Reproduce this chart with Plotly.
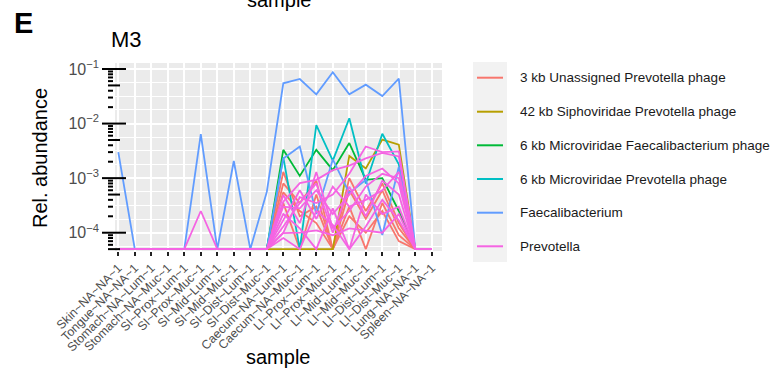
import numpy as np
import plotly.graph_objects as go

# ---------------- data ----------------
samples = ["Skin~NA~NA~1", "Tongue~NA~NA~1", "Stomach~NA~Lum~1", "Stomach~NA~Muc~1",
           "SI~Prox~Lum~1", "SI~Prox~Muc~1", "SI~Mid~Lum~1", "SI~Mid~Muc~1",
           "SI~Dist~Lum~1", "SI~Dist~Muc~1", "Caecum~NA~Lum~1", "Caecum~NA~Muc~1",
           "LI~Prox~Lum~1", "LI~Prox~Muc~1", "LI~Mid~Lum~1", "LI~Mid~Muc~1",
           "LI~Dist~Lum~1", "LI~Dist~Muc~1", "Lung~NA~NA~1", "Spleen~NA~NA~1"]

FLOOR = 5e-5  # zeros are drawn at the lower limit

z10 = [0] * 10
phage_3kb = [
    z10 + [1.3e-3, 2.0e-4, 3.0e-4, 0, 6.0e-4, 1.8e-4, 6.0e-4, 1.2e-4, 0, 0],
    z10 + [8.0e-4, 3.5e-4, 9.0e-4, 0, 3.0e-4, 0, 3.5e-4, 9.0e-5, 0, 0],
    z10 + [5.5e-4, 2.5e-4, 1.5e-4, 0, 1.0e-3, 2.5e-4, 8.0e-4, 1.5e-4, 0, 0],
    z10 + [3.5e-4, 0, 5.0e-4, 0, 2.0e-4, 1.0e-4, 2.5e-4, 7.0e-5, 0, 0],
]
phage_42kb = [
    [0] * 14 + [2.55e-3, 1.5e-3, 5.1e-3, 4.1e-3, 0, 0],
]
phage_6kb_faec = [
    z10 + [3.3e-3, 1.1e-3, 3.3e-3, 1.4e-3, 4.4e-3, 9.3e-4, 1.0e-3, 2.5e-4, 0, 0],
]
phage_6kb_prev = [
    z10 + [2.4e-3, 0, 9.4e-3, 2.1e-3, 1.25e-2, 8.0e-4, 6.5e-3, 1.8e-3, 0, 0],
]
faecalibacterium = [
    [3.0e-3, 0, 0, 0, 0, 6.4e-3, 0, 2.06e-3, 0, 5.6e-4,
     5.47e-2, 6.56e-2, 3.43e-2, 8.7e-2, 3.43e-2, 5.16e-2, 3.2e-2, 6.65e-2, 0, 0],
    z10 + [2.3e-3, 3.8e-3, 2.2e-4, 2.2e-3, 5.3e-4, 9.3e-4, 9.1e-5, 1.6e-3, 0, 0],
]
prevotella = [
    [0, 0, 0, 0, 0, 2.5e-4, 0, 0, 0, 0,
     4.9e-4, 1.5e-4, 1.3e-3, 1.2e-4, 2.5e-4, 7.0e-4, 1.2e-3, 1.0e-3, 0, 0],
    z10 + [3.7e-4, 8.1e-4, 9.3e-4, 1.4e-3, 1.7e-3, 2.3e-3, 2.9e-3, 2.5e-3, 0, 0],
    z10 + [1.0e-4, 4.5e-4, 3.5e-4, 5.0e-4, 1.2e-3, 3.8e-3, 3.0e-3, 3.1e-3, 0, 0],
    z10 + [3.0e-4, 2.8e-4, 6.0e-4, 2.2e-4, 5.0e-4, 1.1e-3, 1.5e-3, 8.0e-4, 0, 0],
    z10 + [1.7e-4, 6.0e-4, 1.8e-4, 7.0e-4, 3.0e-4, 4.0e-4, 6.0e-4, 1.3e-3, 0, 0],
    z10 + [9.8e-5, 1.0e-4, 1.1e-4, 9.0e-5, 1.2e-4, 1.1e-4, 1.0e-4, 2.2e-4, 0, 0],
    z10 + [2.2e-4, 1.2e-4, 0, 2.8e-4, 0, 5.0e-4, 2.2e-4, 3.0e-4, 0, 0],
    z10 + [1.3e-4, 3.5e-4, 8.0e-4, 1.0e-4, 7.0e-4, 2.0e-4, 9.0e-4, 5.0e-4, 0, 0],
    z10 + [8.0e-5, 0, 2.5e-4, 1.4e-4, 0, 1.3e-4, 4.0e-4, 1.7e-4, 0, 0],
]

series_names = ["3 kb Unassigned Prevotella phage", "42 kb Siphoviridae Prevotella phage",
                "6 kb Microviridae Faecalibacterium phage", "6 kb Microviridae Prevotella phage",
                "Faecalibacterium", "Prevotella"]
series_data = [phage_3kb, phage_42kb, phage_6kb_faec, phage_6kb_prev, faecalibacterium, prevotella]
series_colors = ["#F8766D", "#B79F00", "#00BA38", "#00BFC4", "#619CFF", "#F564E3"]

y_decades = [1e-4, 1e-3, 1e-2, 1e-1]
y_ticktext = ["10<sup>−4</sup>", "10<sup>−3</sup>", "10<sup>−2</sup>", "10<sup>−1</sup>"]

# ---------------- layout geometry ----------------
W, H = 773, 373
ML, MR, MT, MB = 100, 331, 63, 122
PW = W - ML - MR
PH = H - MT - MB
X_RANGE = [-1.109, -1.109 + PW / 16.5]
Y_TOP = -0.89
Y_RANGE = [Y_TOP - PH / 54.57, Y_TOP]

FONT = "Liberation Sans, Arial, sans-serif"


def px_x(p):
    return (p - ML) / PW


def px_y(p):
    return 1 - (p - MT) / PH


fig = go.Figure()

x_idx = list(range(len(samples)))
for name, groups, col in zip(series_names, series_data, series_colors):
    for k, vals in enumerate(groups):
        y = np.where(np.array(vals, dtype=float) > 0, vals, FLOOR)
        fig.add_trace(go.Scatter(
            x=x_idx, y=y, mode="lines", name=name, legendgroup=name,
            showlegend=False, line=dict(color=col, width=1.8),
            hovertext=[samples[i] for i in x_idx],
        ))

# log tick marks (annotation_logticks style) on a pixel-scaled overlay axis
lo, hi = 10 ** Y_RANGE[0], 10 ** Y_RANGE[1]
tx, ty = [], []
for d in range(-6, 1):
    for m in range(1, 10):
        v = m * 10.0 ** d
        if not (lo <= v <= hi):
            continue
        if m == 1:
            x0, x1 = 2, 26
        elif m == 5:
            x0, x1 = 8, 20
        else:
            x0, x1 = 8, 13
        tx += [x0, x1, None]
        ty += [v, v, None]
fig.add_trace(go.Scatter(x=tx, y=ty, xaxis="x2", mode="lines",
                         line=dict(color="black", width=2), showlegend=False,
                         hoverinfo="skip"))

minor_vals = []
for d in range(-5, 0):
    for f in (0.25, 0.5, 0.75):
        v = 10 ** (d + f)
        if lo <= v <= hi:
            minor_vals.append(v)

fig.update_layout(
    width=W, height=H, autosize=False,
    margin=dict(l=ML, r=MR, t=MT, b=MB, autoexpand=False),
    paper_bgcolor="white", plot_bgcolor="white",
    font=dict(family=FONT, color="#1a1a1a"),
    showlegend=False,
    xaxis=dict(range=X_RANGE, tickmode="array", tickvals=x_idx, ticktext=samples,
               tickangle=-45, tickfont=dict(size=12.3, color="#4d4d4d"),
               ticks="outside", ticklen=4, tickwidth=2, tickcolor="#222",
               showgrid=True, gridcolor="white", gridwidth=1.6,
               zeroline=False, showline=False, fixedrange=True, automargin=False),
    xaxis2=dict(range=[0, PW], overlaying="x", visible=False, fixedrange=True),
    yaxis=dict(type="log", range=Y_RANGE, tickmode="array", tickvals=y_decades,
               ticktext=y_ticktext, tickfont=dict(size=16, color="#4d4d4d"),
               ticks="", showgrid=True, gridcolor="white", gridwidth=1.6,
               minor=dict(tickvals=minor_vals, showgrid=True, gridcolor="white",
                          gridwidth=1.0, ticks=""),
               zeroline=False, showline=False, fixedrange=True, automargin=False),
)

# grey panel
fig.add_shape(type="rect", xref="x2", yref="paper", x0=15, x1=PW, y0=0, y1=1,
              fillcolor="#EBEBEB", line=dict(width=0), layer="below")

# legend (drawn by hand to match ggplot's spacing)
fig.add_shape(type="rect", xref="paper", yref="paper",
              x0=px_x(473), x1=px_x(507), y0=px_y(262), y1=px_y(62),
              fillcolor="#F2F2F2", line=dict(width=0), layer="below")
leg_y = [77.7, 111.7, 145.3, 179.0, 212.7, 246.3]
for name, col, yy in zip(series_names, series_colors, leg_y):
    fig.add_shape(type="line", xref="paper", yref="paper",
                  x0=px_x(477), x1=px_x(503), y0=px_y(yy), y1=px_y(yy),
                  line=dict(color=col, width=2))
    fig.add_annotation(text=name, x=px_x(518), y=px_y(yy), xref="paper", yref="paper",
                       showarrow=False, font=dict(size=13.5, color="#1a1a1a"),
                       xanchor="left", yanchor="middle")

fig.add_annotation(text="<b>E</b>", x=px_x(23), y=px_y(23), xref="paper", yref="paper",
                   showarrow=False, font=dict(size=29, color="black"),
                   xanchor="center", yanchor="middle")
fig.add_annotation(text="M3", x=px_x(109), y=px_y(40), xref="paper", yref="paper",
                   showarrow=False, font=dict(size=22, color="black"),
                   xanchor="left", yanchor="middle")
fig.add_annotation(text="sample", x=px_x(279), y=px_y(0), xref="paper", yref="paper",
                   showarrow=False, font=dict(size=20, color="black"),
                   xanchor="center", yanchor="middle")
fig.add_annotation(text="sample", x=px_x(278), y=px_y(357), xref="paper", yref="paper",
                   showarrow=False, font=dict(size=20, color="black"),
                   xanchor="center", yanchor="middle")
fig.add_annotation(text="Rel. abundance", x=px_x(40), y=px_y(158), xref="paper", yref="paper",
                   showarrow=False, font=dict(size=20, color="black"), textangle=-90,
                   xanchor="center", yanchor="middle")

fig.write_html("out.html", config={"displayModeBar": False},
               post_script="document.body.style.margin='0';document.body.style.padding='0';")
